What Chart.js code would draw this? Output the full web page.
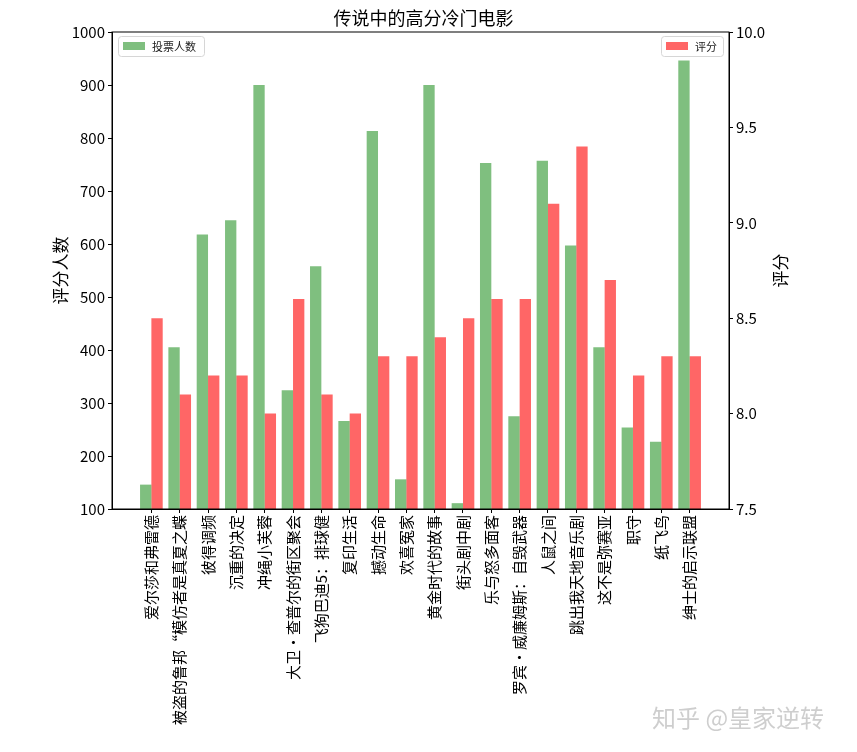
<!DOCTYPE html>
<html>
<head>
<meta charset="utf-8">
<script src="https://cdn.jsdelivr.net/npm/chart.js@4"></script>
<style>
  html, body { margin: 0; padding: 0; background: #fff; }
  #wrap { width: 857px; height: 752px; position: relative; }
</style>
</head>
<body>
<div id="wrap"><canvas id="myChart" width="857" height="752"></canvas></div>
<script>
const FONT = `"Noto Sans CJK SC", "Noto Sans", sans-serif`;

// movie names along the x axis
const movies = [
  '爱尔莎和弗雷德', '被盗的鲁邦“模仿者是真夏之蝶', '彼得调频', '沉重的决定', '冲绳小芙蓉',
  '大卫・查普尔的街区聚会', '飞狗巴迪5：排球健', '复印生活', '撼动生命', '欢喜冤家',
  '黄金时代的故事', '街头剧中剧', '乐与怒多面客', '罗宾・威廉姆斯：自毁武器', '人鼠之间',
  '跳出我天地音乐剧', '这不是弥赛亚', '职守', '纸飞鸟', '绅士的启示联盟'
];

// 投票人数 (left axis)
const votes = [146, 405, 618, 645, 900, 324, 558, 266, 813, 156,
               900, 111, 753, 275, 757, 597, 405, 254, 227, 946];

// 评分 (right axis)
const scores = [8.5, 8.1, 8.2, 8.2, 8.0, 8.6, 8.1, 8.0, 8.3, 8.3,
                8.4, 8.5, 8.6, 8.6, 9.1, 9.4, 8.7, 8.2, 8.3, 8.3];

const voteTicks = [100, 200, 300, 400, 500, 600, 700, 800, 900, 1000];
const scoreTicks = [7.5, 8.0, 8.5, 9.0, 9.5, 10.0];

const chartTitle = '传说中的高分冷门电影';
const leftTitle = '评分人数';
const rightTitle = '评分';
const watermark = '知乎 @皇家逆转';

// frame, titles, the two separate legends and the watermark
const extras = {
  id: 'extras',
  afterDraw(chart) {
    const c = chart.ctx;
    const a = chart.chartArea;
    c.save();
    // box around the plot
    c.strokeStyle = '#000';
    c.lineWidth = 1;
    c.strokeRect(a.left, a.top, a.right - a.left, a.bottom - a.top);

    c.fillStyle = '#000';
    c.textAlign = 'center';
    c.textBaseline = 'middle';
    c.font = `18px ${FONT}`;
    c.fillText(chartTitle, (a.left + a.right) / 2 + 3, 18);

    c.font = `17px ${FONT}`;
    c.save();
    c.translate(61, (a.top + a.bottom) / 2);
    c.rotate(-Math.PI / 2);
    c.fillText(leftTitle, 0, 0);
    c.restore();
    c.save();
    c.translate(781, (a.top + a.bottom) / 2);
    c.rotate(-Math.PI / 2);
    c.fillText(rightTitle, 0, 0);
    c.restore();

    // legends
    const ds = chart.data.datasets;
    c.font = `11px ${FONT}`;
    c.textAlign = 'left';
    function legendBox(x, y, w, item) {
      c.fillStyle = 'rgba(255,255,255,0.8)';
      c.strokeStyle = '#d6d6d6';
      c.lineWidth = 1;
      c.beginPath();
      c.roundRect(x + 0.5, y + 0.5, w, 20, 3);
      c.fill();
      c.stroke();
      c.fillStyle = item.backgroundColor;
      c.fillRect(x + 5, y + 6, 22, 8);
      c.fillStyle = '#222';
      c.fillText(item.label, x + 34, y + 10.5);
    }
    legendBox(a.left + 6, a.top + 4, 86, ds[0]);
    legendBox(a.right - 68, a.top + 4, 62, ds[1]);

    c.font = `24px ${FONT}`;
    c.fillStyle = 'rgba(190,190,190,0.75)';
    c.fillText(watermark, 652, 718);
    c.restore();
  }
};

const ctx = document.getElementById('myChart').getContext('2d');

const myChart = new Chart(ctx, {
  type: 'bar',
  data: {
    datasets: [{
      label: '投票人数',
      data: votes.map((v, i) => ({ x: i, y: v })),
      backgroundColor: 'rgba(0,128,0,0.5)',
      yAxisID: 'y',
      barPercentage: 1.0,
      categoryPercentage: 0.8
    }, {
      label: '评分',
      data: scores.map((v, i) => ({ x: i, y: v })),
      backgroundColor: 'rgba(255,0,0,0.6)',
      yAxisID: 'y1',
      barPercentage: 1.0,
      categoryPercentage: 0.8
    }]
  },
  plugins: [extras],
  options: {
    responsive: false,
    animation: false,
    devicePixelRatio: 1,
    layout: { padding: { top: 32, left: 0, right: 0, bottom: 0 } },
    plugins: {
      legend: { display: false },
      title: { display: false },
      tooltip: { enabled: false }
    },
    scales: {
      x: {
        type: 'linear',
        offset: false,
        min: -1.39,
        max: 20.39,
        afterBuildTicks: s => { s.ticks = movies.map((m, i) => ({ value: i })); },
        afterFit: s => { s.height = 243; },
        grid: { offset: false, drawOnChartArea: false, drawTicks: true, tickLength: 4, color: '#000' },
        border: { display: true, color: '#000' },
        ticks: {
          autoSkip: false,
          minRotation: 90,
          maxRotation: 90,
          padding: 2,
          color: '#000',
          font: { size: 15, family: FONT },
          callback: v => movies[v]
        }
      },
      y: {
        position: 'left',
        min: 100,
        max: 1000,
        afterBuildTicks: s => { s.ticks = voteTicks.map(v => ({ value: v })); },
        afterFit: s => { s.width = 112; },
        grid: { drawOnChartArea: false, drawTicks: true, tickLength: 4, color: '#000' },
        border: { display: true, color: '#000' },
        ticks: {
          color: '#000',
          padding: 3,
          font: { size: 15, family: FONT },
          callback: v => String(v)
        }
      },
      y1: {
        position: 'right',
        min: 7.5,
        max: 10.0,
        afterBuildTicks: s => { s.ticks = scoreTicks.map(v => ({ value: v })); },
        afterFit: s => { s.width = 128; },
        grid: { drawOnChartArea: false, drawTicks: true, tickLength: 4, color: '#000' },
        border: { display: true, color: '#000' },
        ticks: {
          color: '#000',
          padding: 3,
          font: { size: 15, family: FONT },
          callback: v => v.toFixed(1)
        }
      }
    }
  }
});
</script>
</body>
</html>
